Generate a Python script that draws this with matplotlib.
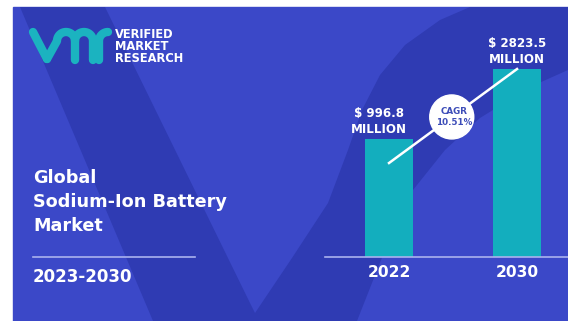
import numpy as np
import matplotlib
matplotlib.use("Agg")
import matplotlib.pyplot as plt
from matplotlib.patches import Rectangle, Polygon, Circle

# Market size (USD million)
years = ["2022", "2030"]
values = [996.8, 2823.5]
cagr_text = "CAGR\n10.51%"
title_lines = ["Global", "Sodium-Ion Battery", "Market"]
period = "2023-2030"
brand_lines = ["VERIFIED", "MARKET", "RESEARCH"]

# Colours
panel_blue = "#3b48c8"
shade_blue = "#2f3bb3"
teal = "#13aebe"
rule_color = "#aab2ee"
cagr_color = "#3d4db8"

W, H = 568, 321
fig = plt.figure(figsize=(W / 100, H / 100), dpi=100)
fig.patch.set_facecolor("white")


def pixel_axes():
    # full-figure axes in pixel units, y pointing down
    a = fig.add_axes([0, 0, 1, 1])
    a.set_xlim(0, W)
    a.set_ylim(H, 0)
    a.axis("off")
    a.patch.set_visible(False)
    return a


bg = pixel_axes()
bg.add_patch(Rectangle((13, 7), W - 13, H - 7, color=panel_blue, zorder=0))

# Big faint "V" watermark and the arc behind the bars
arc1 = [(255, 313), (292, 258), (328, 203), (348, 150), (362, 110),
        (380, 75), (405, 45), (440, 20), (470, 7)]
arc2 = [(568, 70), (530, 87), (480, 118), (445, 150), (413, 190),
        (385, 250), (357, 321)]
shade = [(20, 7), (105, 7), (180, 160), (250, 303)] + arc1 + [(568, 7)] + arc2 + [(153, 321)]
bg.add_patch(Polygon(shade, closed=True, color=shade_blue, lw=0, zorder=0.5))

# Logo mark "vmr"
logo_color = "#1bb3c0"
logo_kw = dict(color=logo_color, lw=6.0, solid_capstyle="round", solid_joinstyle="round")
t = np.linspace(np.pi, 0, 30)
r = 9
a1x, a1y = 66 + r * np.cos(t), 41 - r * np.sin(t)
a2x, a2y = 84 + r * np.cos(t), 41 - r * np.sin(t)
bg.plot([33, 47], [32, 59], **logo_kw)
bg.plot(np.concatenate([[47], a1x, [75]]), np.concatenate([[59], a1y, [60]]), **logo_kw)
bg.plot(np.concatenate([a2x, [93]]), np.concatenate([a2y, [60]]), **logo_kw)
tr = np.linspace(np.pi, np.pi / 2, 15)
bg.plot(np.concatenate([[99], 108 + r * np.cos(tr)]), np.concatenate([[60], 41 - r * np.sin(tr)]),
        **logo_kw)

for i, line in enumerate(brand_lines):
    bg.text(115, 38 + 12 * i, line, color="white", fontsize=8.3, fontweight="bold",
            va="baseline", ha="left")

# Left-hand title block
for i, line in enumerate(title_lines):
    bg.text(33, 183 + 24 * i, line, color="white", fontsize=12.7, fontweight="bold",
            va="baseline", ha="left")
bg.plot([33, 195], [257, 257], color=rule_color, lw=1.2)
bg.text(33, 282, period, color="white", fontsize=12, fontweight="bold",
        va="baseline", ha="left")

# Bar chart
base = 172.4
ax = fig.add_axes([325 / W, (H - 257) / H, (W - 325) / W, (257 - 7) / H])
ax.patch.set_visible(False)
ax.set_yscale("log")
ax.set_ylim(base, 7100)
ax.set_xlim(-0.5, 1.398)
x = np.arange(len(years))
ax.bar(x, np.array(values) - base, bottom=base, width=0.375, color=teal)

for s in ["top", "left", "right"]:
    ax.spines[s].set_visible(False)
ax.spines["bottom"].set_color(rule_color)
ax.spines["bottom"].set_linewidth(1.2)
ax.set_xticks(x, years)
ax.tick_params(axis="x", length=0, pad=5.5, labelcolor="white", labelsize=11.2)
for lab in ax.get_xticklabels():
    lab.set_fontweight("bold")
ax.tick_params(axis="y", which="both", left=False, labelleft=False)

label_dx = [-7, 0]
for i, v in enumerate(values):
    ax.annotate(f"$ {v:g}\nMILLION", xy=(i, v), xytext=(label_dx[i], 2.5),
                textcoords="offset points", ha="center", va="bottom",
                color="white", fontsize=8.6, fontweight="bold", linespacing=1.25)

# Growth line with the CAGR badge, drawn over the bars
fg = pixel_axes()
to_px = fg.transData.inverted()
end = to_px.transform(ax.transData.transform((1, values[1])))
top0 = to_px.transform(ax.transData.transform((0, values[0])))
start = (top0[0], top0[1] + 24)
fg.plot([start[0], end[0]], [start[1], end[1]], color="white", lw=1.8, zorder=3)
f = 0.49
cx = start[0] + f * (end[0] - start[0])
cy = start[1] + f * (end[1] - start[1])
fg.add_patch(Circle((cx, cy), 22, color="white", zorder=4))
fg.text(cx + 2, cy, cagr_text, color=cagr_color, fontsize=6.3, fontweight="bold",
        ha="center", va="center", linespacing=1.35, zorder=5)

fig.savefig("out.png", dpi=100)
